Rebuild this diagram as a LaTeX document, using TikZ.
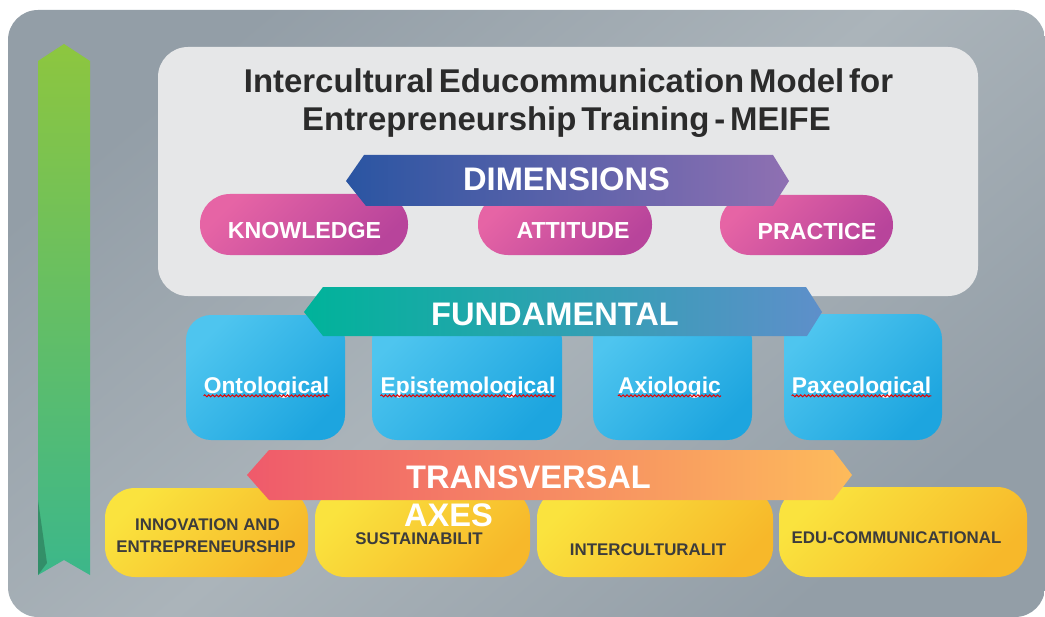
\documentclass[tikz,border=0pt]{standalone}
\usepackage{fontspec}
\setmainfont{Liberation Sans}
\usetikzlibrary{decorations.pathmorphing}
\definecolor{bgA}{HTML}{939EA7}
\definecolor{bgB}{HTML}{ABB4BA}
\definecolor{panelc}{HTML}{E6E7E8}
\definecolor{titlec}{HTML}{2B2B2B}
\definecolor{dimL}{HTML}{2A55A2}
\definecolor{dimR}{HTML}{8F70B2}
\definecolor{pinkA}{HTML}{E664A5}
\definecolor{pinkB}{HTML}{B8449B}
\definecolor{funL}{HTML}{00B39A}
\definecolor{funR}{HTML}{5E8FCA}
\definecolor{blueA}{HTML}{4EC5EF}
\definecolor{blueB}{HTML}{1DA5DF}
\definecolor{traL}{HTML}{EF5A6B}
\definecolor{traR}{HTML}{FDBB5B}
\definecolor{yelA}{HTML}{FAE33E}
\definecolor{yelB}{HTML}{F7B82A}
\definecolor{yeltext}{HTML}{3C3C3C}
\definecolor{grnT}{HTML}{8DC63F}
\definecolor{grnB}{HTML}{3CB78A}
\definecolor{grnD}{HTML}{2E7E5C}
\def\PX{0.025cm}
\newcommand\tightsp{\spaceskip=0.15em\relax}
\tikzset{
  pill/.style={rounded corners=30*\PX, top color=pinkA, bottom color=pinkB, shading angle=45, inner sep=0pt},
  bluebox/.style={rounded corners=25*\PX, top color=blueA, bottom color=blueB, shading angle=45, inner sep=0pt},
  yelbox/.style={rounded corners=30*\PX, top color=yelA, bottom color=yelB, shading angle=45, inner sep=0pt},
  bigtxt/.style={text=white, font=\fontsize{23.2}{27}\selectfont\bfseries, anchor=base, inner sep=0pt},
  pinktxt/.style={text=white, font=\fontsize{16.5}{19}\selectfont\bfseries, anchor=base, inner sep=0pt},
  bluetxt/.style={text=white, font=\fontsize{16.2}{19}\selectfont\bfseries, anchor=base, inner sep=0pt},
  yeltxt/.style={text=yeltext, font=\fontsize{12}{14}\selectfont\bfseries, anchor=base, inner sep=0pt},
  titletxt/.style={text=titlec, font=\fontsize{23.4}{27}\selectfont\bfseries, anchor=base, inner sep=0pt},
  squiggle/.style={red!90!black, line width=0.7pt, decorate, decoration={snake, amplitude=0.7pt, segment length=2.8pt}}
}
\begin{document}
\begin{tikzpicture}[x=0.025cm,y=-0.025cm]
\useasboundingbox (0,0) rectangle (1045,617);
% background
\shade[rounded corners=30*\PX, top color=bgA, bottom color=bgA, middle color=bgB, shading angle=40] (8,10) rectangle (1045,617);
% green ribbon
\shade[top color=grnT, bottom color=grnB] (38,61) -- (64,44) -- (90,61) -- (90,575) -- (64,560) -- (38,575) -- cycle;
\fill[grnD, opacity=0.7] (38,500) -- (47,563) -- (38,575) -- cycle;
% top panel
\node[fill=panelc, rounded corners=30*\PX, minimum width=820*\PX, minimum height=249*\PX, inner sep=0pt] (panel) at (568,171.5) {};
\node[titletxt] (title1) at (568.5,93) {\tightsp Intercultural Educommunication Model for};
\node[titletxt] (title2) at (566.5,131) {\tightsp Entrepreneurship Training - MEIFE};
% pills
\node[pill, minimum width=208*\PX, minimum height=61*\PX] (know) at (304,224.5) {};
\node[pill, minimum width=174*\PX, minimum height=61*\PX] (att) at (565,224.5) {};
\node[pill, minimum width=173*\PX, minimum height=60*\PX] (prac) at (806.5,225) {};
\node[pinktxt] (knowt) at (304.5,238) {KNOWLEDGE};
\node[pinktxt] (attt) at (573,238) {ATTITUDE};
\node[pinktxt] (pract) at (817,239) {PRACTICE};
% dimensions banner
\shade[left color=dimL, right color=dimR] (346,181) -- (364,155) -- (773,155) -- (789,181) -- (773,206) -- (366,206) -- cycle;
\node[bigtxt] (dim) at (566.5,190) {DIMENSIONS};
% blue boxes
\node[bluebox, minimum width=159*\PX, minimum height=125*\PX] (onto) at (265.5,377.5) {};
\node[bluebox, minimum width=190*\PX, minimum height=125*\PX] (epis) at (467,377.5) {};
\node[bluebox, minimum width=159*\PX, minimum height=125*\PX] (axio) at (672.5,377.5) {};
\node[bluebox, minimum width=158*\PX, minimum height=126*\PX] (paxe) at (863,377) {};
\node[bluetxt] (ontot) at (266.5,393) {Ontological};
\node[bluetxt] (epist) at (468,393) {Epistemological};
\node[bluetxt] (axiot) at (669.5,393) {Axiologic};
\node[bluetxt] (paxet) at (861.5,393) {Paxeological};
\foreach \n in {ontot,epist,axiot,paxet}{
  \draw[squiggle] ([yshift=-2pt]\n.base west) -- ([yshift=-2pt]\n.base east);
}
% fundamental banner
\shade[left color=funL, right color=funR] (304,312) -- (323,287) -- (806,287) -- (822,312) -- (807,336) -- (323,336) -- cycle;
\node[bigtxt] (fund) at (555,325) {FUNDAMENTAL};
% yellow boxes
\node[yelbox, minimum width=203*\PX, minimum height=89*\PX] (inno) at (206.5,532.5) {};
\node[yelbox, minimum width=215*\PX, minimum height=89*\PX] (sust) at (422.5,532.5) {};
\node[yelbox, minimum width=236*\PX, minimum height=89*\PX] (intc) at (655,532.5) {};
\node[yelbox, minimum width=248*\PX, minimum height=90*\PX] (educ) at (903,532) {};
\node[yeltxt] (innot1) at (207.5,530) {INNOVATION AND};
\node[yeltxt] (innot2) at (206,552) {ENTREPRENEURSHIP};
\node[yeltxt] (sustt) at (419,544) {SUSTAINABILIT};
\node[yeltxt] (intct) at (648,555) {INTERCULTURALIT};
\node[yeltxt] (educt) at (896.5,543) {EDU-COMMUNICATIONAL};
% transversal banner
\shade[left color=traL, right color=traR] (247,475) -- (269,450) -- (833,450) -- (852,475) -- (833,500) -- (269,500) -- cycle;
\node[bigtxt] (trans) at (528.5,488) {TRANSVERSAL};
\node[bigtxt] (axes) at (448.5,526) {AXES};
\end{tikzpicture}
\end{document}
